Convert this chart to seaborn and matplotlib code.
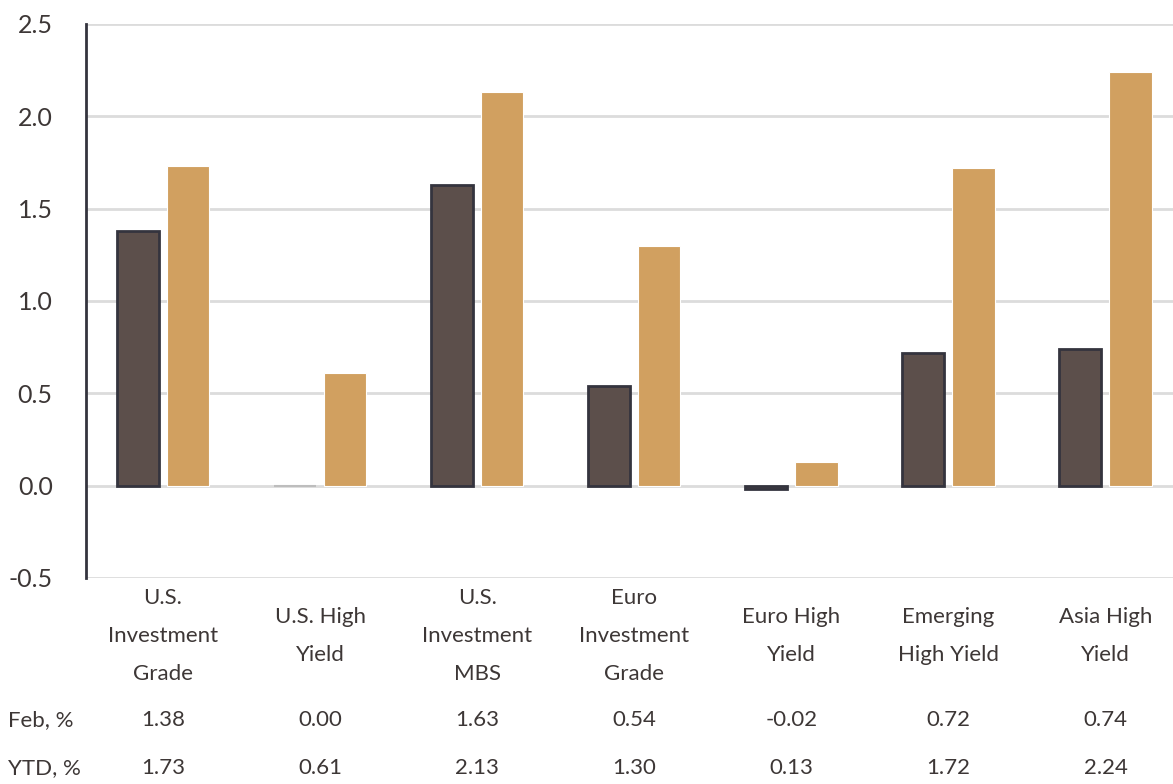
import matplotlib
matplotlib.use("Agg")
import matplotlib.pyplot as plt
import matplotlib.transforms as mtransforms
import pandas as pd
import seaborn as sns

# Datos
categories = [
    "U.S.\nInvestment\nGrade",
    "U.S. High\nYield",
    "U.S.\nInvestment\nMBS",
    "Euro\nInvestment\nGrade",
    "Euro High\nYield",
    "Emerging\nHigh Yield",
    "Asia High\nYield",
]
feb_values = [1.38, 0.00, 1.63, 0.54, -0.02, 0.72, 0.74]
ytd_values = [1.73, 0.61, 2.13, 1.30, 0.13, 1.72, 2.24]
series_names = ["Feb, %", "YTD, %"]
y_ticks = [-0.5, 0.0, 0.5, 1.0, 1.5, 2.0, 2.5]

FEB_COLOR = "#5c4f4b"
YTD_COLOR = "#d1a060"
TEXT_COLOR = "#3d3736"

sns.set_theme(style="white")
plt.rcParams["font.family"] = ["Lato", "DejaVu Sans"]
plt.rcParams["axes.unicode_minus"] = False

df = pd.DataFrame({
    "category": categories * 2,
    "value": feb_values + ytd_values,
    "series": [series_names[0]] * len(categories) + [series_names[1]] * len(categories),
})

fig = plt.figure(figsize=(11.73, 7.84), dpi=100)
ax = fig.add_axes([0.0733, 0.2628, 0.9267, 0.7066])

sns.barplot(data=df, x="category", y="value", hue="series",
            palette=[FEB_COLOR, YTD_COLOR], saturation=1, width=0.64, gap=0.16,
            legend=False, ax=ax, zorder=3)

for p in ax.containers[0]:
    # barra en cero: sólo una línea gris tenue
    if p.get_height() == 0:
        p.set_edgecolor("#bdbdbd")
        p.set_linewidth(1.5)
    else:
        p.set_edgecolor("#34343e")
        p.set_linewidth(2)
for p in ax.containers[1]:
    p.set_edgecolor("white")
    p.set_linewidth(0.8)

ax.set_ylim(-0.5, 2.5)
ax.set_xlim(-0.49, 6.43)
ax.set_yticks(y_ticks)
ax.set_yticklabels([f"{v:.1f}" for v in y_ticks])
ax.yaxis.grid(True, color="#dcdcdc", linewidth=2)
ax.set_axisbelow(True)
ax.tick_params(axis="y", length=0, pad=24, labelsize=18, labelcolor=TEXT_COLOR)
ax.tick_params(axis="x", bottom=False, labelbottom=False)
ax.set_xlabel("")
ax.set_ylabel("")
for side in ["top", "right", "bottom"]:
    ax.spines[side].set_visible(False)
ax.spines["left"].set_color("#34343e")
ax.spines["left"].set_linewidth(2)

# Etiquetas de categoría centradas verticalmente
trans = mtransforms.blended_transform_factory(ax.transData, fig.transFigure)
for i, cat in enumerate(categories):
    ax.text(i, 0.1888, cat, transform=trans, ha="center", va="center",
            multialignment="center", linespacing=2.15, fontsize=16,
            color=TEXT_COLOR)

# Tabla de valores
for row_y, name, vals in [(0.0816, series_names[0], feb_values),
                          (0.0204, series_names[1], ytd_values)]:
    fig.text(0.0068, row_y, name, ha="left", va="center", fontsize=16,
             color=TEXT_COLOR)
    for i, v in enumerate(vals):
        ax.text(i, row_y, f"{v:.2f}", transform=trans, ha="center",
                va="center", fontsize=16, color=TEXT_COLOR)

fig.savefig("out.png", dpi=100)
